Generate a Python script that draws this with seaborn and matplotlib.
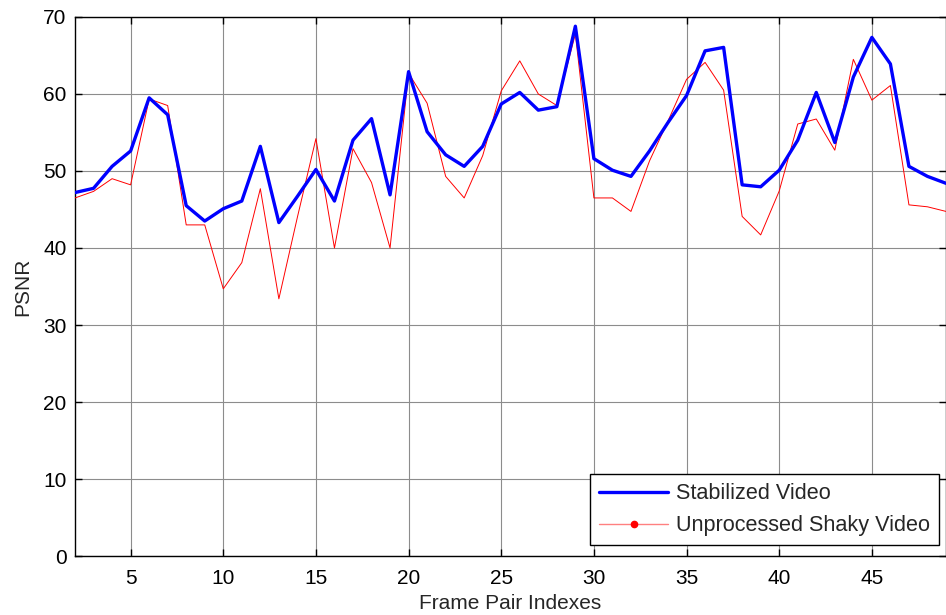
import numpy as np
import pandas as pd
import matplotlib
matplotlib.use("Agg")
import matplotlib.pyplot as plt
import seaborn as sns
from matplotlib.lines import Line2D

frames = list(range(2, 50))
stabilized = [47.2, 47.75, 50.6, 52.6, 59.5, 57.3, 45.5, 43.5, 45.1, 46.1,
              53.2, 43.3, 46.7, 50.2, 46.1, 54.0, 56.8, 46.9, 62.9, 55.1,
              52.1, 50.6, 53.2, 58.7, 60.2, 57.9, 58.35, 68.8, 51.6, 50.1,
              49.3, 52.6, 56.3, 59.8, 65.6, 66.05, 48.2, 47.95, 50.1, 54.0,
              60.2, 53.7, 62.2, 67.35, 63.9, 50.6, 49.3, 48.4]
shaky = [46.5, 47.35, 49.0, 48.2, 59.35, 58.5, 43.0, 43.0, 34.7, 38.1,
         47.7, 33.4, 44.0, 54.2, 40.0, 52.9, 48.5, 40.0, 62.7, 58.8,
         49.3, 46.5, 52.0, 60.4, 64.3, 60.0, 58.5, 67.8, 46.5, 46.5,
         44.75, 51.3, 56.5, 61.9, 64.1, 60.5, 44.1, 41.7, 47.4, 56.1,
         56.75, 52.7, 64.5, 59.2, 61.1, 45.6, 45.35, 44.75]
series_names = ["Stabilized Video", "Unprocessed Shaky Video"]
xticks = [5, 10, 15, 20, 25, 30, 35, 40, 45]
yticks = [0, 10, 20, 30, 40, 50, 60, 70]

sns.set_theme(style="white")
plt.rcParams['font.family'] = ['Liberation Sans', 'DejaVu Sans']

fig = plt.figure(figsize=(9.46, 6.15), dpi=100)
ax = fig.add_axes([0.0793, 0.0959, 0.9207, 0.8765])

sns.lineplot(x=frames, y=shaky, ax=ax, color="#ff0000", linewidth=0.7, zorder=3)
sns.lineplot(x=frames, y=stabilized, ax=ax, color="#0000ff", linewidth=2.4, zorder=4)

ax.set_xlim(2, 49)
ax.set_ylim(0, 70)
ax.set_xticks(xticks)
ax.set_yticks(yticks)
ax.grid(True, color="#8c8c8c", linewidth=0.8, linestyle="-")
ax.set_axisbelow(True)
for s in ax.spines.values():
    s.set_color("black")
    s.set_linewidth(1.0)
    s.set_visible(True)
ax.tick_params(direction="in", length=5, width=1, top=True, right=True,
               bottom=True, left=True, labelsize=15, colors="black")
ax.tick_params(axis="x", pad=9)
ax.tick_params(axis="y", pad=6)
ax.set_xlabel("Frame Pair Indexes", fontsize=15, labelpad=5)
ax.set_ylabel("PSNR", fontsize=15, labelpad=8)

handles = [Line2D([], [], color="#0000ff", linewidth=2.4),
           Line2D([], [], color="#ff8080", linewidth=1.0, marker=".",
                  markersize=9, markerfacecolor="#ff0000", markeredgecolor="#ff0000")]
leg = ax.legend(handles, series_names, loc="lower right",
                bbox_to_anchor=(0.992, 0.02), borderaxespad=0, fontsize=15.6,
                frameon=True, fancybox=False, edgecolor="black",
                handlelength=3.2, handletextpad=0.35, labelspacing=0.5,
                borderpad=0.42)
leg.get_frame().set_linewidth(1.0)
leg.get_frame().set_alpha(1)

fig.savefig("out.png", dpi=100)
